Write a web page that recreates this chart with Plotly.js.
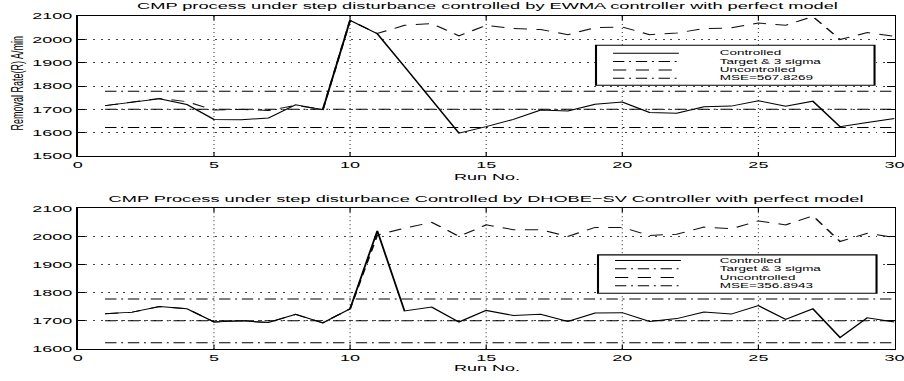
<!DOCTYPE html>
<html>
<head>
<meta charset="utf-8">
<script src="https://cdn.plot.ly/plotly-3.0.1.min.js"></script>
<style>
  html, body { margin: 0; padding: 0; background: #fff; }
  #wrap { width: 904px; height: 381px; overflow: hidden; position: relative; }
  #chart { width: 476px; height: 381px; transform-origin: 0 0; }
</style>
</head>
<body>
<div id="wrap"><div id="chart"></div></div>
<script>
// ---------------- data ----------------
const runs = [1,2,3,4,5,6,7,8,9,10,11,12,13,14,15,16,17,18,19,20,21,22,23,24,25,26,27,28,29,30];

const ewmaControlled = [1716,1730,1745,1721,1657,1655,1663,1720,1699,2081,2024,1883,1741,1598,1626,
                        1657,1697,1693,1722,1731,1687,1683,1711,1714,1737,1714,1735,1626,1644,1661];
const ewmaUncontrolled = [1716,1731,1747,1733,1697,1700,1695,1717,1699,2081,2025,2060,2068,2015,2060,
                          2046,2042,2020,2050,2053,2020,2027,2046,2049,2070,2060,2098,1999,2029,2013];

const dhobeControlled = [1725,1731,1751,1743,1696,1700,1694,1723,1693,1743,2020,1735,1749,1696,1737,
                         1719,1723,1698,1728,1729,1698,1708,1731,1724,1754,1705,1743,1641,1711,1696];
const dhobeUncontrolled = [1725,1731,1751,1743,1696,1700,1694,1723,1693,1743,2005,2029,2050,2000,2041,
                           2024,2024,2000,2032,2032,2003,2008,2033,2027,2055,2041,2073,1982,2011,1996];

const target = 1700;
const upperLimit = 1777.5;
const lowerLimit = 1622.5;

const xTicks = [0,5,10,15,20,25,30];
const yTicksTop = [1500,1600,1700,1800,1900,2000,2100];
const yTicksBottom = [1600,1700,1800,1900,2000,2100];

const titles = [
  "CMP process under step disturbance controlled by EWMA controller with perfect model",
  "CMP Process under step disturbance Controlled by DHOBE\u2212SV Controller with perfect model"
];
const xTitle = "Run No.";
const yTitle = "Removal Rate(R) A/min";
const legendTop = ["Controlled", "Target & 3 sigma", "Uncontrolled", "MSE=567.8269"];
const legendBottom = ["Controlled", "Target & 3 sigma", "Uncontrolled", "MSE=356.8943"];

// ---------------- layout helpers ----------------
const W = 476, H = 381, S = 904 / W;
const L = 77 / S, R = W - 895 / S, T = 15.7, B = H - 349.3;
const PW = W - L - R, PH = H - T - B;
const fx = X => (X / S - L) / PW;       // final-pixel x -> paper
const fy = Y => 1 - (Y - T) / PH;       // final-pixel y -> paper

const FONT = "Liberation Sans, Arial, Helvetica, sans-serif";
const DASH_DOT = "6px,2.5px,1px,2.5px";
const DASHED = "7px,5px";

const first = runs[0], last = runs[runs.length - 1];

function seriesTraces(ctrl, unctrl, xa, ya) {
  const base = {type: "scatter", mode: "lines", xaxis: xa, yaxis: ya, showlegend: false, hoverinfo: "skip"};
  const tr = [];
  [target, upperLimit, lowerLimit].forEach(v => {
    tr.push(Object.assign({}, base, {x: [first, last], y: [v, v],
      line: {color: "#000", width: 1, dash: DASH_DOT}}));
  });
  tr.push(Object.assign({}, base, {x: runs, y: unctrl, line: {color: "#111", width: 1, dash: DASHED}}));
  tr.push(Object.assign({}, base, {x: runs, y: ctrl, line: {color: "#000", width: 1}}));
  return tr;
}

const data = [].concat(
  seriesTraces(ewmaControlled, ewmaUncontrolled, "x", "y"),
  seriesTraces(dhobeControlled, dhobeUncontrolled, "x2", "y2")
);

function xAxis(anchor) {
  return {
    anchor: anchor, domain: [0, 1], range: [0, 30], tickvals: xTicks,
    showline: true, linecolor: "#000", linewidth: 1, mirror: "ticks",
    ticks: "inside", ticklen: 4, tickcolor: "#000", tickwidth: 0.6,
    showgrid: true, gridcolor: "#444", gridwidth: 0.6, griddash: "1px,3px",
    zeroline: false, tickfont: {size: 9.5, color: "#000", family: FONT},
    ticklabeloverflow: "allow", automargin: false
  };
}
function yAxis(anchor, dom, range, ticks) {
  return {
    anchor: anchor, domain: dom, range: range, tickvals: ticks,
    showline: true, linecolor: "#000", linewidth: 1, mirror: "ticks",
    ticks: "inside", ticklen: 4, tickcolor: "#000", tickwidth: 1,
    showgrid: true, gridcolor: "#444", gridwidth: 1, griddash: "1px,3px",
    zeroline: false, tickfont: {size: 9.5, color: "#000", family: FONT},
    ticklabeloverflow: "allow", automargin: false
  };
}

const annotations = [];
function ann(text, X, Y, extra) {
  annotations.push(Object.assign({
    text: text, xref: "paper", yref: "paper", x: fx(X), y: fy(Y),
    xanchor: "center", yanchor: "middle", showarrow: false, borderpad: 0,
    font: {family: FONT, size: 9.6, color: "#000"}
  }, extra || {}));
}
ann(titles[0], 486, 4.8);
ann(titles[1], 486, 198.7);
ann(xTitle, 486, 176.5, {font: {family: FONT, size: 9.5, color: "#000"}});
ann(xTitle, 486, 367.5, {font: {family: FONT, size: 9.5, color: "#000"}});
ann(yTitle, 16.7, 83, {textangle: -90, font: {family: FONT, size: 9, color: "#000"}});

const shapes = [];
function legendBox(labels, bx0, bx1, by0, by1, sx0, sx1, tx, ys) {
  shapes.push({type: "rect", xref: "paper", yref: "paper", x0: fx(bx0), x1: fx(bx1), y0: fy(by1), y1: fy(by0),
    line: {color: "#000", width: 1.1}, fillcolor: "#fff", layer: "above"});
  const styles = [
    {dash: "solid"}, {dash: DASH_DOT}, {dash: DASHED}, {dash: DASH_DOT}
  ];
  labels.forEach((lab, i) => {
    shapes.push({type: "line", xref: "paper", yref: "paper", x0: fx(sx0), x1: fx(sx1), y0: fy(ys[i]), y1: fy(ys[i]),
      line: {color: "#000", width: 1, dash: styles[i].dash}, layer: "above"});
    ann(lab, tx, ys[i], {xanchor: "left", font: {family: FONT, size: 7.1, color: "#000"}});
  });
}
legendBox(legendTop, 596, 875, 45, 85, 613, 679, 718, [53, 61.3, 69.7, 78]);
legendBox(legendBottom, 598, 877, 255, 293.5, 615, 681, 719, [260.7, 269, 277.7, 286]);

const layout = {
  width: W, height: H,
  margin: {l: L, r: R, t: T, b: B, pad: 0},
  paper_bgcolor: "#fff", plot_bgcolor: "#fff",
  font: {family: FONT, color: "#000", size: 10},
  showlegend: false,
  xaxis: xAxis("y"),
  yaxis: yAxis("x", [fy(156), 1], [1500, 2100], yTicksTop),
  xaxis2: xAxis("y2"),
  yaxis2: yAxis("x2", [0, fy(208.3)], [1600, 2100], yTicksBottom),
  annotations: annotations,
  shapes: shapes
};

Plotly.newPlot("chart", data, layout, {staticPlot: true, displayModeBar: false, responsive: false})
  .then(() => {
    document.getElementById("chart").style.transform = "scaleX(" + S + ")";
  });
</script>
</body>
</html>
